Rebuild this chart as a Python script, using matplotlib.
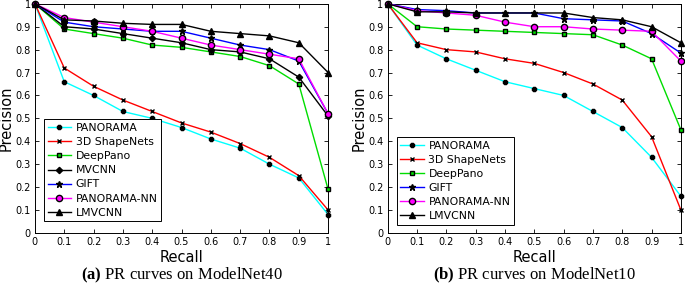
import matplotlib.pyplot as plt

plt.rcParams['mathtext.fontset'] = 'custom'
plt.rcParams['mathtext.rm'] = 'Liberation Serif'
plt.rcParams['mathtext.bf'] = 'Liberation Serif:bold'

recall = [0, 0.1, 0.2, 0.3, 0.4, 0.5, 0.6, 0.7, 0.8, 0.9, 1.0]
tick_labels = ['0', '0.1', '0.2', '0.3', '0.4', '0.5', '0.6', '0.7', '0.8', '0.9', '1']

# ModelNet40
m40_panorama = [1, 0.66, 0.60, 0.53, 0.50, 0.46, 0.41, 0.37, 0.30, 0.24, 0.08]
m40_shapenets = [1, 0.72, 0.64, 0.58, 0.53, 0.48, 0.44, 0.39, 0.33, 0.25, 0.10]
m40_deeppano = [1, 0.89, 0.87, 0.85, 0.82, 0.81, 0.79, 0.77, 0.73, 0.65, 0.19]
m40_mvcnn = [1, 0.90, 0.89, 0.87, 0.85, 0.83, 0.80, 0.79, 0.76, 0.68, 0.51]
m40_gift = [1, 0.92, 0.90, 0.89, 0.88, 0.88, 0.85, 0.82, 0.80, 0.75, 0.52]
m40_panorama_nn = [1, 0.94, 0.92, 0.90, 0.88, 0.85, 0.82, 0.80, 0.78, 0.76, 0.52]
m40_lmvcnn = [1, 0.93, 0.925, 0.915, 0.91, 0.91, 0.88, 0.87, 0.86, 0.83, 0.70]

# ModelNet10
m10_panorama = [1, 0.82, 0.76, 0.71, 0.66, 0.63, 0.60, 0.53, 0.46, 0.33, 0.16]
m10_shapenets = [1, 0.83, 0.80, 0.79, 0.76, 0.74, 0.70, 0.65, 0.58, 0.42, 0.10]
m10_deeppano = [1, 0.90, 0.89, 0.885, 0.88, 0.875, 0.87, 0.865, 0.82, 0.76, 0.45]
m10_gift = [1, 0.975, 0.97, 0.96, 0.96, 0.96, 0.935, 0.93, 0.925, 0.87, 0.785]
m10_panorama_nn = [1, 0.97, 0.96, 0.95, 0.92, 0.90, 0.90, 0.89, 0.885, 0.88, 0.75]
m10_lmvcnn = [1, 0.965, 0.965, 0.96, 0.96, 0.96, 0.96, 0.94, 0.93, 0.90, 0.83]

styles = {
    'PANORAMA': dict(color='cyan', marker='8', mfc='black', mec='black', ms=3.2),
    '3D ShapeNets': dict(color='red', marker='x', mfc='black', mec='black', ms=3, mew=1),
    'DeepPano': dict(color='#00dd00', marker='s', mfc='#00dd00', mec='black', ms=3.2),
    'MVCNN': dict(color='black', marker='D', mfc='black', mec='black', ms=3.2),
    'GIFT': dict(color='blue', marker='*', mfc='black', mec='black', ms=4.5),
    'PANORAMA-NN': dict(color='magenta', marker='o', mfc='magenta', mec='black', ms=4.5),
    'LMVCNN': dict(color='black', marker='^', mfc='black', mec='black', ms=4.5),
}

fig = plt.figure(figsize=(6.85, 2.93), dpi=100)
ax1 = fig.add_axes([0.051, 0.205, 0.428, 0.782])
ax2 = fig.add_axes([0.566, 0.205, 0.428, 0.782])

series40 = [('PANORAMA', m40_panorama), ('3D ShapeNets', m40_shapenets),
            ('DeepPano', m40_deeppano), ('MVCNN', m40_mvcnn), ('GIFT', m40_gift),
            ('PANORAMA-NN', m40_panorama_nn), ('LMVCNN', m40_lmvcnn)]
series10 = [('PANORAMA', m10_panorama), ('3D ShapeNets', m10_shapenets),
            ('DeepPano', m10_deeppano), ('GIFT', m10_gift),
            ('PANORAMA-NN', m10_panorama_nn), ('LMVCNN', m10_lmvcnn)]

for ax, series in [(ax1, series40), (ax2, series10)]:
    for name, vals in series:
        ax.plot(recall, vals, label=name, lw=1, clip_on=False, zorder=3, **styles[name])
    ax.set_xlim(0, 1)
    ax.set_ylim(0, 1)
    ax.set_xticks(recall)
    ax.set_xticklabels(tick_labels)
    ax.set_yticks(recall)
    ax.set_yticklabels(tick_labels)
    ax.tick_params(direction='in', top=True, right=True, labelsize=7, length=3, width=0.6, pad=3)
    for s in ax.spines.values():
        s.set_linewidth(0.7)
    ax.set_xlabel('Recall', fontsize=10.5, labelpad=2)
    ax.set_ylabel('Precision', fontsize=10.5, labelpad=1)

leg_kw = dict(loc='lower left', fontsize=7.8, fancybox=False, edgecolor='black',
              framealpha=1, handlelength=2.2, handletextpad=0.4, borderpad=0.35,
              labelspacing=0.38, borderaxespad=0)
l1 = ax1.legend(bbox_to_anchor=(0.03, 0.05), **leg_kw)
l2 = ax2.legend(bbox_to_anchor=(0.03, 0.035), **leg_kw)
for l in (l1, l2):
    l.get_frame().set_linewidth(0.7)
    l.set_zorder(5)

for x, tag, txt in [(0.265, '(a)', 'PR curves on ModelNet40'),
                    (0.780, '(b)', 'PR curves on ModelNet10')]:
    fig.text(x, 0.06, r'$\mathbf{' + tag + r'}$ ' + txt, ha='center', va='center',
             fontsize=12, family='Liberation Serif')

fig.savefig('out.png', dpi=100)
